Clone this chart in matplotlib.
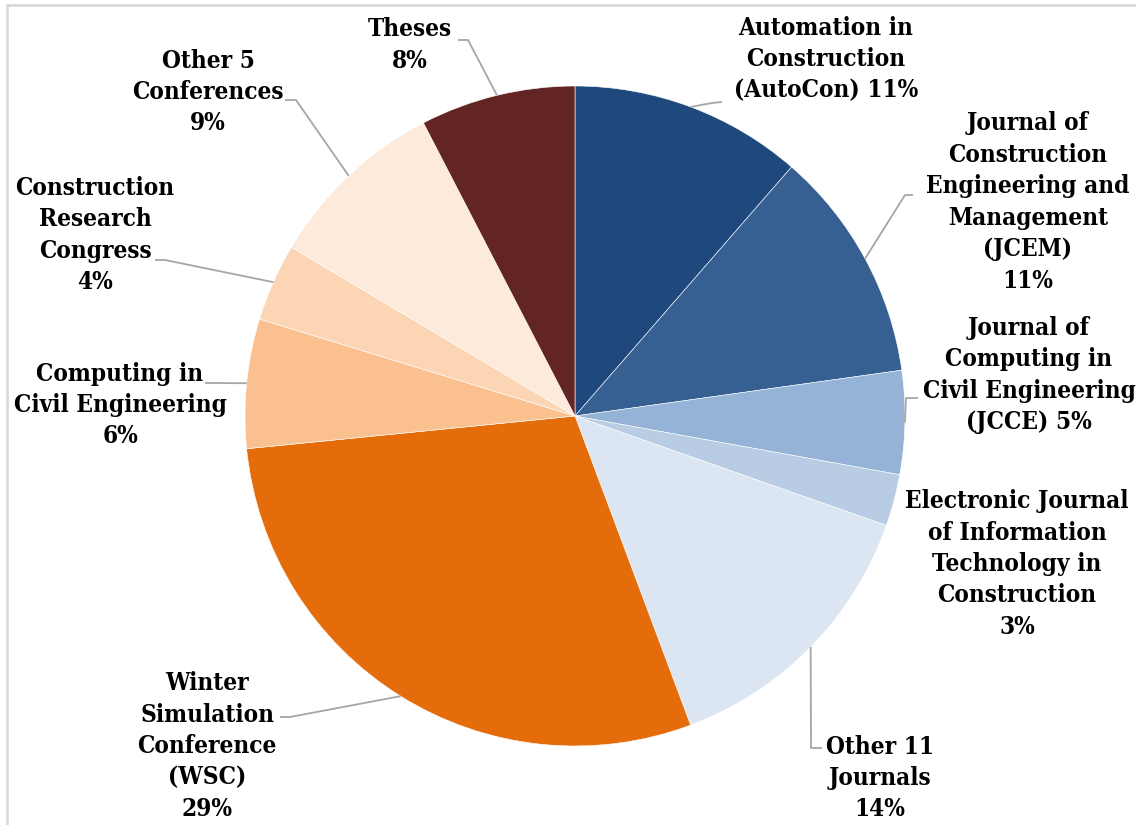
import numpy as np
import matplotlib
matplotlib.use("Agg")
import matplotlib.pyplot as plt

# paper counts per venue, clockwise from 12 o'clock
venues = [
    "Automation in\nConstruction\n(AutoCon) 11%",
    "Journal of\nConstruction\nEngineering and\nManagement\n(JCEM)\n11%",
    "Journal of\nComputing in\nCivil Engineering\n(JCCE) 5%",
    "Electronic Journal\nof Information\nTechnology in\nConstruction\n3%",
    "Other 11\nJournals\n14%",
    "Winter\nSimulation\nConference\n(WSC)\n29%",
    "Computing in\nCivil Engineering\n6%",
    "Construction\nResearch\nCongress\n4%",
    "Other 5\nConferences\n9%",
    "Theses\n8%",
]
counts = [9, 9, 4, 2, 11, 23, 5, 3, 7, 6]
colors = ["#1F497D", "#366092", "#95B3D7", "#B8CCE4", "#DCE6F2",
          "#E46C0A", "#FAC090", "#FCD5B5", "#FDEADA", "#632523"]

W, H = 1136, 825
# label block centres in pixels (x, y from top)
label_pos = [(826, 59), (1028, 202), (1029, 375), (1017, 564), (880, 778),
             (207, 746), (120, 405), (95, 235), (208, 92), (410, 45)]
# leader start at the label and elbow point, None = no leader
leader_start = [(722, 102), (913, 195), (918, 398), None, (822, 748),
                (280, 717), (205, 383), (155, 260), (285, 100), (458, 40)]
leader_elbow = [(712, 103), (905, 195), (906, 398), None, (811, 748),
                (290, 717), (215, 383), (165, 260), (296, 100), (468, 40)]

cx, cy, r = 575, 416, 330

fig = plt.figure(figsize=(W / 100, H / 100), dpi=100)
ax = fig.add_axes([0, 0, 1, 1])

wedges, _ = ax.pie(counts, colors=colors, startangle=90, counterclock=False,
                   center=(cx, H - cy), radius=r,
                   wedgeprops=dict(edgecolor="white", linewidth=0.4))
ax.set_xlim(0, W)
ax.set_ylim(0, H)
ax.set_aspect("equal")
ax.axis("off")

font = dict(family="DejaVu Serif", fontweight="bold", fontsize=17.5,
            fontstretch="condensed", color="black")

for w, lab, (lx, ly), s, e in zip(wedges, venues, label_pos, leader_start, leader_elbow):
    ax.text(lx, H - ly, lab, ha="center", va="center", linespacing=1.39, **font)
    if s is None:
        continue
    mid = np.deg2rad((w.theta1 + w.theta2) / 2)
    px = cx + r * np.cos(mid)
    py = H - cy + r * np.sin(mid)
    ax.plot([s[0], e[0], px], [H - s[1], H - e[1], py], color="#A6A6A6", lw=1.3,
            solid_capstyle="butt")

# chart area border (only top and left visible)
ax.plot([7, 7, W], [0, H - 5, H - 5], color="#D9D9D9", lw=2)

fig.savefig("out.png", dpi=100)
